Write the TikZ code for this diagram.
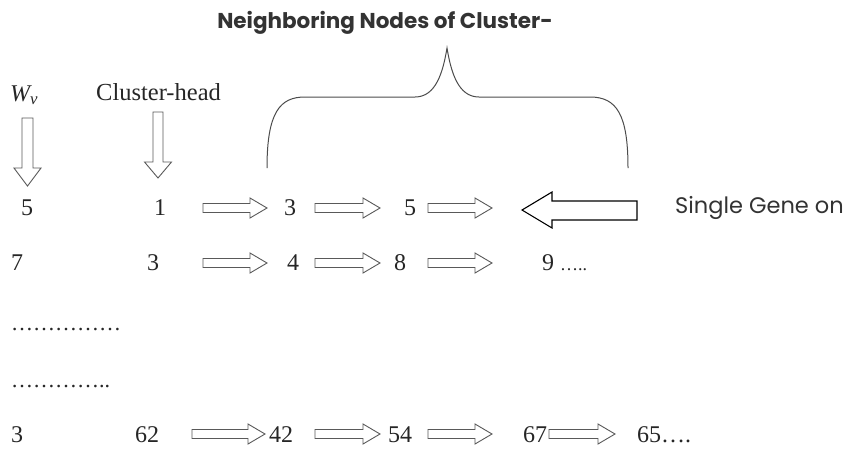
\documentclass[tikz,border=0pt]{standalone}
\usepackage{fontspec}
\setmainfont{Liberation Serif}
\newfontfamily\gothic{Poppins}
\begin{document}
\begin{tikzpicture}[x=1pt,y=-1pt,
  num/.style={anchor=base,inner sep=0pt,font=\fontsize{24}{26}\selectfont,text=black!85},
  numw/.style={anchor=base west,inner sep=0pt,font=\fontsize{24}{26}\selectfont,text=black!85},
  barrow/.style={draw=black!65,line width=0.9pt,fill=white,line join=miter},
  bigarrow/.style={draw=black,line width=1.1pt,fill=white,line join=miter},
  brace/.style={draw=black!70,line width=1pt}]
\useasboundingbox (0,0) rectangle (858,450);
\newcommand{\rArr}[3]{%
  \draw[barrow] ({#1},{#3-4.5}) -- ({#2-17},{#3-4.5}) -- ({#2-17},{#3-10}) -- ({#2},{#3}) -- ({#2-17},{#3+10}) -- ({#2-17},{#3+4.5}) -- ({#1},{#3+4.5}) -- cycle;}
\newcommand{\dArr}[6]{% xc, ytop, yheadbase, ytip, shafthalf, headhalf
  \draw[barrow] ({#1-#5},{#2}) -- ({#1+#5},{#2}) -- ({#1+#5},{#3}) -- ({#1+#6},{#3}) -- ({#1},{#4}) -- ({#1-#6},{#3}) -- ({#1-#5},{#3}) -- cycle;}
% title and labels
\node[anchor=base,inner sep=0pt,font=\gothic\bfseries\fontsize{21.5}{24}\selectfont,text=black!80] (title) at (385,28) {Neighboring Nodes of Cluster-};
\node[anchor=base west,inner sep=0pt,font=\fontsize{24}{26}\selectfont\itshape,text=black!85] (wv) at (10,101) {W\textsubscript{v}};
\node[anchor=base west,inner sep=0pt,font=\fontsize{24.5}{27}\selectfont,text=black!85] (ch) at (96,100) {Cluster-head};
\node[anchor=base west,inner sep=0pt,font=\gothic\fontsize{22.5}{25}\selectfont,text=black!80] (sg) at (675,213) {Single Gene on};
% down arrows
\dArr{27.5}{118}{168}{186}{5.5}{13.5}
\dArr{158}{112}{162}{178}{5}{13.5}
% brace
\draw[brace] (267,168) .. controls (267,112) and (280,97) .. (305,97) -- (415,97) .. controls (436,97) and (443,72) .. (447,48) .. controls (451,72) and (458,97) .. (479,97) -- (590,97) .. controls (617,97) and (628,115) .. (628,168);
% row 1
\node[num] (r1a) at (27,215) {5};
\node[num] (r1b) at (160,215) {1};
\node[num] (r1c) at (290,215) {3};
\node[num] (r1d) at (410,215) {5};
\rArr{203}{267}{208}
\rArr{315}{380}{208}
\rArr{428}{492}{208}
\draw[bigarrow] (522,210) -- (552,192) -- (552,201) -- (637,201) -- (637,220) -- (552,220) -- (552,228) -- cycle;
% row 2
\node[num] (r2a) at (17,270) {7};
\node[num] (r2b) at (153,270) {3};
\node[num] (r2c) at (293,270) {4};
\node[num] (r2d) at (400,270) {8};
\node[numw] (r2e) at (542,270) {9 \fontsize{18}{20}\selectfont…..};
\rArr{203}{267}{263}
\rArr{315}{380}{263}
\rArr{428}{492}{263}
% dotted rows
\node[numw,font=\fontsize{22}{24}\selectfont] (d1) at (11,330) {……………};
\node[numw,font=\fontsize{22}{24}\selectfont] (d2) at (11,387) {…………..};
% row 3
\node[num] (r3a) at (17,442) {3};
\node[num] (r3b) at (147,442) {62};
\node[num] (r3c) at (281,442) {42};
\node[num] (r3d) at (400,442) {54};
\node[num] (r3e) at (535,442) {67};
\node[numw] (r3f) at (637,442) {65….};
\rArr{192}{265}{434}
\rArr{315}{380}{434}
\rArr{428}{492}{434}
\rArr{549}{615}{434}
\end{tikzpicture}
\end{document}
